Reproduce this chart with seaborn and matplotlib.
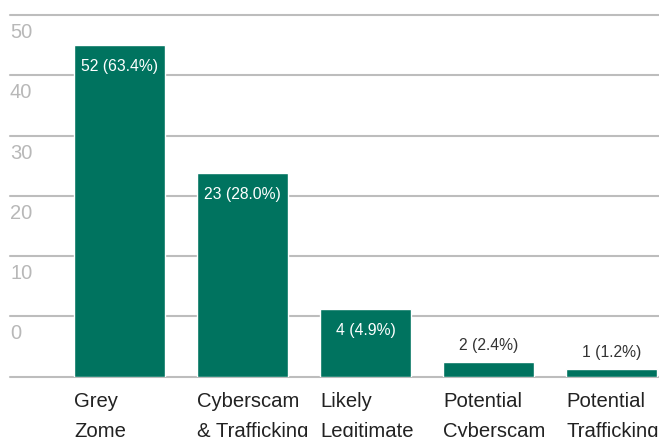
import matplotlib
matplotlib.use("Agg")
import matplotlib.pyplot as plt
import seaborn as sns
import pandas as pd
from matplotlib.transforms import blended_transform_factory, offset_copy

# ---- data ----
categories = ["Grey\nZome", "Cyberscam\n& Trafficking", "Likely\nLegitimate",
              "Potential\nCyberscam", "Potential\nTrafficking"]
counts = [52, 23, 4, 2, 1]
percents = [63.4, 28.0, 4.9, 2.4, 1.2]
bar_heights = [55.0, 33.8, 11.2, 2.4, 1.3]   # drawn heights on the grid scale
grid_values = [0, 10, 20, 30, 40, 50, 60]
ytick_labels = ["", "0", "10", "20", "30", "40", "50"]
label_inside = [True, True, True, False, False]

sns.set_theme(style="white")
plt.rcParams["font.family"] = ["Liberation Sans", "DejaVu Sans"]

W, H = 659, 437
fig = plt.figure(figsize=(W / 100, H / 100), dpi=100)
ax = fig.add_axes([10 / W, 1 - 376.7 / H, (659 - 10) / W, (376.7 - 15) / H])

df = pd.DataFrame({"cat": categories, "h": bar_heights})
bar_color = "#00735F"
sns.barplot(data=df, x="cat", y="h", color=bar_color, saturation=1,
            width=0.74, ax=ax, zorder=3)

ax.set_xlim(-0.89, 4.386)
ax.set_ylim(0, 60)
for s in ax.spines.values():
    s.set_visible(False)
ax.set_xlabel("")
ax.set_ylabel("")
ax.set_xticks([])
ax.set_yticks([])

# gridlines
for g in grid_values:
    ax.axhline(g, color="#bdbdbd", lw=1.5, zorder=1, clip_on=False)

# y labels sitting just under their gridline, left-aligned
trans_y = blended_transform_factory(ax.transAxes, ax.transData)
for g, lab in zip(grid_values, ytick_labels):
    if lab:
        ax.text(0.0, g, lab, transform=offset_copy(trans_y, fig=fig, x=0, y=-8, units="dots"),
                ha="left", va="top", fontsize=14.5, color="#b8b8b8")

# value annotations
for i, (c, p, h, inside) in enumerate(zip(counts, percents, bar_heights, label_inside)):
    txt = f"{c} ({p:.1f}%)"
    if inside:
        ax.text(i, h, txt, transform=offset_copy(ax.transData, fig=fig, x=0, y=-21.5, units="dots"),
                ha="center", va="center", fontsize=11.3, color="white", zorder=5)
    else:
        ax.text(i, h, txt, transform=offset_copy(ax.transData, fig=fig, x=0, y=16.5, units="dots"),
                ha="center", va="center", fontsize=11.3, color="#333333", zorder=5)

# category labels, left-aligned at bar left edge
trans_x = blended_transform_factory(ax.transData, ax.transAxes)
for i, cat in enumerate(categories):
    ax.text(i - 0.37, 0, cat, transform=offset_copy(trans_x, fig=fig, x=0, y=-15, units="dots"),
            ha="left", va="top", fontsize=14.6, color="#222222", linespacing=1.78)

fig.savefig("out.png", dpi=100)
